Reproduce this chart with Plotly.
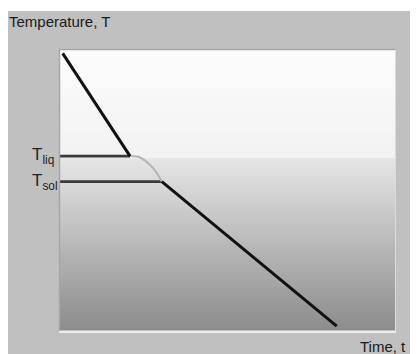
import plotly.graph_objects as go

# ---- data ----
liquid_time = [0.08, 2.09]
liquid_temp = [9.88, 6.21]

mushy_time = [2.09, 2.39, 2.69, 2.87, 3.04]
mushy_temp = [6.21, 6.16, 5.89, 5.64, 5.30]

solid_time = [3.04, 8.26]
solid_temp = [5.30, 0.14]

T_liq = 6.21
T_sol = 5.30
liq_time = 2.09
sol_time = 3.04

x_range = [0, 10]
y_range = [0, 10]

# background gradient levels (grey value) along temperature
n_rows = 140
y_edges = [y_range[0] + (y_range[1] - y_range[0]) * i / n_rows for i in range(n_rows + 1)]
z = []
for i in range(n_rows):
    yc = (y_edges[i] + y_edges[i + 1]) / 2
    if yc >= T_liq - 0.07:
        f = (yc - (T_liq - 0.07)) / (y_range[1] - (T_liq - 0.07))
        g = 242 + (252 - 242) * f
    else:
        f = yc / (T_liq - 0.07)
        g = 140 + (230 - 140) * f
    z.append([g])

OFF = 8  # page body margin
W, H = 418 - OFF, 354 - OFF
L, R, T, B = 60, 395, 50, 330  # plot area in reference pixels
pw, ph = R - L, B - T


def px(xp):
    return (xp - L) / pw


def py(yp):
    return (B - yp) / ph


fig = go.Figure()

fig.add_trace(go.Heatmap(
    x=x_range, y=y_edges, z=z, zmin=0, zmax=255,
    colorscale=[[0, "rgb(0,0,0)"], [1, "rgb(255,255,255)"]],
    showscale=False, hoverinfo="skip", zsmooth=False,
))

# horizontal level lines
fig.add_trace(go.Scatter(x=[0, liq_time], y=[T_liq, T_liq], mode="lines",
                         line=dict(color="#3a3a3a", width=2.6), hoverinfo="skip"))
fig.add_trace(go.Scatter(x=[0, sol_time], y=[T_sol, T_sol], mode="lines",
                         line=dict(color="#3a3a3a", width=2.6), hoverinfo="skip"))
# mushy zone curve
fig.add_trace(go.Scatter(x=mushy_time, y=mushy_temp, mode="lines",
                         line=dict(color="#b4b4b4", width=2, shape="spline"), hoverinfo="skip"))
# cooling lines
fig.add_trace(go.Scatter(x=liquid_time, y=liquid_temp, mode="lines",
                         line=dict(color="#111111", width=3), hoverinfo="skip"))
fig.add_trace(go.Scatter(x=solid_time, y=solid_temp, mode="lines",
                         line=dict(color="#111111", width=3), hoverinfo="skip"))

shapes = [
    dict(type="rect", xref="paper", yref="paper", x0=px(6), x1=px(412), y0=py(360), y1=py(11),
         fillcolor="#c0c0c0", line=dict(width=0), layer="below"),
    dict(type="line", xref="paper", yref="paper", x0=px(59), x1=px(396), y0=py(49.5), y1=py(49.5),
         line=dict(color="#a6a6a6", width=1.5)),
    dict(type="line", xref="paper", yref="paper", x0=px(59.5), x1=px(59.5), y0=py(331), y1=py(49.5),
         line=dict(color="#a6a6a6", width=1.5)),
    dict(type="line", xref="paper", yref="paper", x0=px(59), x1=px(396), y0=py(332), y1=py(332),
         line=dict(color="#efefef", width=2)),
    dict(type="line", xref="paper", yref="paper", x0=px(395.5), x1=px(395.5), y0=py(332), y1=py(49.5),
         line=dict(color="#dcdcdc", width=1)),
]

font_family = "Arial, Liberation Sans, sans-serif"
annotations = [
    dict(text="Temperature, T", xref="paper", yref="paper", x=px(7), y=py(22),
         xanchor="left", yanchor="middle", showarrow=False,
         font=dict(family=font_family, size=15, color="#1a1a1a")),
    dict(text="Time, t", xref="paper", yref="paper", x=px(408), y=py(346),
         xanchor="right", yanchor="middle", showarrow=False,
         font=dict(family=font_family, size=15, color="#1a1a1a")),
    dict(text="T<sub>liq</sub>", xref="paper", yref="y", x=px(30), y=T_liq,
         xanchor="left", yanchor="middle", showarrow=False,
         font=dict(family=font_family, size=17, color="#222222")),
    dict(text="T<sub>sol</sub>", xref="paper", yref="y", x=px(30), y=T_sol,
         xanchor="left", yanchor="middle", showarrow=False,
         font=dict(family=font_family, size=17, color="#222222")),
]

fig.update_layout(
    width=W, height=H,
    margin=dict(l=L - OFF, r=418 - R, t=T - OFF, b=354 - B),
    paper_bgcolor="white", plot_bgcolor="rgba(0,0,0,0)",
    showlegend=False,
    shapes=shapes, annotations=annotations,
    xaxis=dict(range=x_range, visible=False, fixedrange=True),
    yaxis=dict(range=y_range, visible=False, fixedrange=True),
)

fig.write_html("out.html", config={"displayModeBar": False})
